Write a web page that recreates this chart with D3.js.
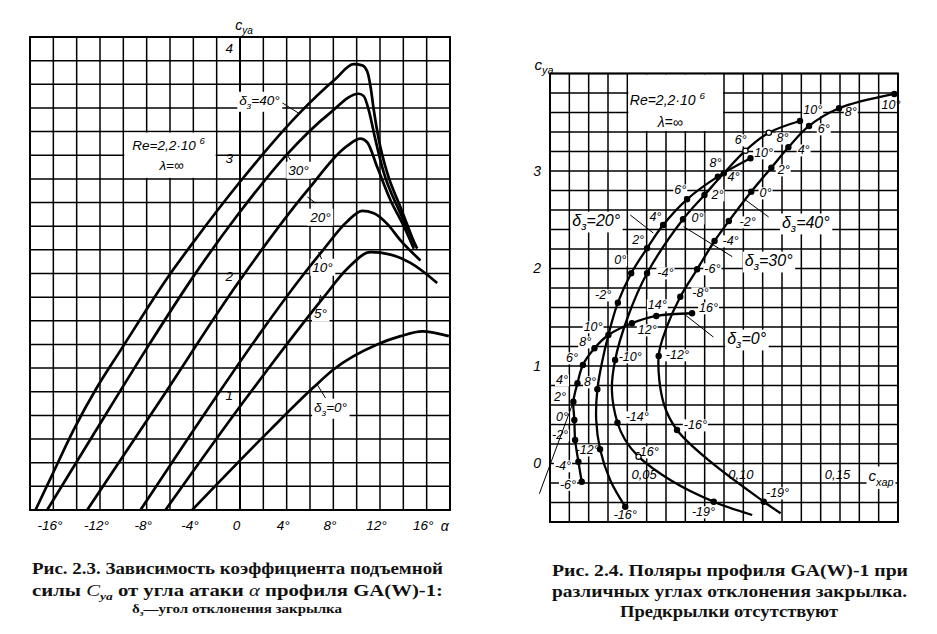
<!DOCTYPE html>
<html>
<head>
<meta charset="utf-8">
<script src="https://cdn.jsdelivr.net/npm/d3@7"></script>
<style>
  body { margin: 0; background: #fff; }
  svg { display: block; }
  .grid line { stroke: #000; stroke-width: 1.5; }
  .frame { fill: none; stroke: #000; stroke-width: 1.9; }
  .curve { fill: none; stroke: #000; stroke-width: 2.7; stroke-linejoin: round; }
  .thin { fill: none; stroke: #000; stroke-width: 1; }
  .lbl { font-family: "Liberation Sans", Arial, sans-serif; font-style: italic; fill: #000; }
  .cap { font-family: "Liberation Serif", "Times New Roman", serif; font-weight: 600; fill: #111; }
</style>
</head>
<body>
<svg id="chart" width="937" height="634"></svg>
<script>
// ---- Fig. 2.3: c_ya(alpha), one series per flap angle ----
const alphaTicks = [-16, -12, -8, -4, 0, 4, 8, 12, 16];
const cyTicksLeft = [1, 2, 3, 4];

const cyAlpha40 = [[-17.53,0],[-16.18,0.28],[-14.25,0.68],[-12.24,1.04],[-10.24,1.35],[-5.96,2.0],[-3.96,2.27],[0.04,2.78],[5.04,3.35],[8.13,3.64],[9.75,3.77],[10.47,3.76],[10.9,3.71],[11.19,3.58],[11.47,3.38],[11.9,3.13],[12.62,2.85],[13.76,2.56],[15.04,2.23]];
const cyAlpha30 = [[-16.53,0],[-12.55,0.64],[-8.1,1.35],[-3.96,1.98],[-0.24,2.49],[4.05,3.01],[7.63,3.35],[10.18,3.52],[10.61,3.50],[11.04,3.38],[11.61,3.13],[12.33,2.85],[13.61,2.54],[15.19,2.21]];
const cyAlpha20 = [[-13.1,0],[-6.81,0.93],[-0.1,1.93],[5.76,2.70],[9.19,3.08],[10.33,3.14],[10.9,3.11],[11.76,2.90],[12.9,2.62],[14.04,2.40],[14.9,2.21]];
const cyAlpha10 = [[-8.53,0],[-2.1,0.95],[1.76,1.50],[5.19,1.96],[7.05,2.19],[9.19,2.44],[10.47,2.53],[11.47,2.51],[12.62,2.42],[13.76,2.28],[15.47,2.11]];
const cyAlpha5  = [[-6.39,0],[0.33,0.92],[2.61,1.22],[7.18,1.80],[9.19,2.04],[11.19,2.18],[12.9,2.16],[14.61,2.09],[16.9,1.92]];
const cyAlpha0  = [[-4.1,0],[2.61,0.68],[6.33,1.04],[8.04,1.19],[11.76,1.40],[13.76,1.47],[15.62,1.51],[17.9,1.47]];

// ---- Fig. 2.4: polars [alpha, c_xa, c_ya]; alpha null = unmarked point on the line ----
const cxTicks = [0.05, 0.10, 0.15];
const cyTicksRight = [0, 1, 2, 3];

const polar0 = [[-6,.0164,-.187],[-4,.0147,.018],[-2,.0130,.241],[0,.0126,.446],[2,.0121,.634],[4,.0142,.823],[6,.0170,1.010],[8,.0230,1.182],[10,.0302,1.318],[12,.0424,1.438],[14,.0550,1.513],[16,.0735,1.541]];
const polar20 = [[-16,.0389,-.443],[null,.0311,-.169],[-12,.0259,.146],[null,.0239,.446],[-8,.0245,.761],[null,.0268,1.028],[null,.0302,1.318],[-2,.0351,1.649],[0,.0420,1.951],[2,.0502,2.207],[4,.0585,2.446],[6,.0709,2.710],[8,.0868,2.942],[10,.1037,3.130]];
const polar30 = [[null,.1046,-.528],[-19,.0847,-.392],[null,.0622,-.169],[-16,.0458,.070],[null,.0389,.241],[-14,.0349,.418],[null,.0320,.754],[-10,.0337,1.062],[null,.0402,1.5],[-4,.0502,1.951],[0,.0688,2.505],[2,.0799,2.754],[4,.0899,2.976],[6,.1011,3.208],[8,.1132,3.393],[10,.1293,3.513]];
const polar40 = [[null,.1193,-.511],[-19,.1106,-.392],[null,.0830,.018],[-16,.0657,.344],[null,.0588,.617],[-12,.0562,1.103],[null,.0602,1.390],[-8,.0674,1.711],[-6,.0761,1.992],[-4,.0851,2.282],[-2,.0925,2.487],[0,.1041,2.788],[2,.1145,3.034],[4,.1233,3.243],[6,.1340,3.462],[8,.1495,3.643],[10,.1781,3.790]];
const tangent0 = [[-0.0055,-0.31],[0.0121,0.634]];

// point labels of the polars: [text, c_xa, c_ya]
const polarLabels = [
  ['10°',.1764,3.677],['8°',.1556,3.605],['6°',.1416,3.431],['4°',.1312,3.215],['2°',.1209,3.010],
  ['0°',.1115,2.774],['-2°',.1022,2.477],['-4°',.0934,2.282],['-6°',.0840,1.995],['-8°',.0778,1.749],
  ['-12°',.0659,1.113],['-16°',.0752,.395],['-19°',.1177,-.303],
  ['10°',.1359,3.626],['8°',.1203,3.338],['6°',.0986,3.318],['4°',.0949,2.938],['2°',.0866,2.754],
  ['0°',.0763,2.518],['-4°',.0597,1.954],['-10°',.0415,1.092],['-14°',.0451,.477],['-16°',.0503,.118],['-19°',.0794,-.497],
  ['10°',.1105,3.185],['8°',.0856,3.082],['6°',.0674,2.805],['4°',.0545,2.528],['2°',.0456,2.292],
  ['0°',.0363,2.087],['-2°',.0275,1.728],['8°',.0207,.836],['-12°',.0192,.138],['-16°',.0389,-.528],
  ['-6°',.0093,-.215],['-4°',.0067,-.025],['-2°',.0052,.292],['0°',.0062,.477],['2°',.0052,.682],
  ['4°',.0062,.856],['6°',.0114,1.082],['8°',.0182,1.246],['10°',.0223,1.400],['12°',.0503,1.369],
  ['14°',.0555,1.626],['16°',.0820,1.595]
];

const hollowPoints = [[30, 6], [30, 8], [30, -16]];

// ---------------------------------------------------------------
const svg = d3.select('#chart');
const gGrid = svg.append('g').attr('class', 'grid');
const gBg = svg.append('g');
const gLines = svg.append('g');
const gText = svg.append('g');

function richText(g, x, y, parts, size, anchor, cls) {
  const t = g.append('text')
    .attr('class', cls || 'lbl')
    .attr('x', x).attr('y', y + size * 0.35)
    .attr('font-size', size)
    .attr('text-anchor', anchor || 'middle');
  let shift = 0;
  parts.forEach(p => {
    const [s, kind] = Array.isArray(p) ? p : [p, null];
    const ts = t.append('tspan').text(s);
    let target = 0;
    if (kind === 'sub') { ts.attr('font-size', size * 0.72); target = size * 0.3; }
    if (kind === 'sup') { ts.attr('font-size', size * 0.7); target = -size * 0.45; }
    if (target !== shift) { ts.attr('dy', target - shift); shift = target; }
  });
  return t;
}

function whiteBehind(t, px, py) {
  const b = t.node().getBBox();
  gBg.append('rect')
    .attr('x', b.x - px).attr('y', b.y - py)
    .attr('width', b.width + 2 * px).attr('height', b.height + 2 * py)
    .attr('fill', '#fff');
}

// ================= LEFT: c_ya(alpha) =================
const xL = d3.scaleLinear().domain([-18, 18]).range([30, 450]);
const yL = d3.scaleLinear().domain([0, 4]).range([510, 37]);

gGrid.selectAll('line.vl').data(d3.range(-18, 19, 2)).join('line')
  .attr('x1', d => xL(d)).attr('x2', d => xL(d))
  .attr('y1', yL(0)).attr('y2', yL(4))
  .style('stroke-width', d => d === 0 ? 2 : null);
gGrid.selectAll('line.hl').data(d3.range(0, 21).map(i => i * 0.2)).join('line')
  .attr('x1', xL(-18)).attr('x2', xL(18))
  .attr('y1', d => yL(d)).attr('y2', d => yL(d));
svg.append('rect').attr('class', 'frame')
  .attr('x', xL(-18)).attr('y', yL(4))
  .attr('width', xL(18) - xL(-18)).attr('height', yL(0) - yL(4));

// box of the Re note
gBg.append('rect').attr('fill', '#fff')
  .attr('x', xL(-10) + 1).attr('y', yL(3.2) + 1)
  .attr('width', xL(-2) - xL(-10) - 2).attr('height', yL(2.8) - yL(3.2) - 2);

const lineL = d3.line().x(d => xL(d[0])).y(d => yL(d[1])).curve(d3.curveMonotoneX);
[cyAlpha40, cyAlpha30, cyAlpha20, cyAlpha10, cyAlpha5, cyAlpha0].forEach(s => {
  gLines.append('path').attr('class', 'curve').attr('d', lineL(s));
});

// x axis labels
const axL = d3.axisBottom(xL).tickValues(alphaTicks).tickSize(0).tickPadding(0)
  .tickFormat(d => d === 0 ? '0' : (d < 0 ? '-' + (-d) : d) + '°');
const gAxL = gText.append('g').attr('transform', `translate(-4,${yL(0) + 10})`).call(axL);
gAxL.select('.domain').remove();
gAxL.selectAll('text').attr('class', 'lbl').attr('font-size', 13.5).attr('fill', '#000');
richText(gText, xL(16) + 18, yL(0) + 16, ['α'], 14, 'middle');

// y axis labels, drawn left of alpha = 0
const ayL = d3.axisLeft(yL).tickValues(cyTicksLeft).tickSize(0).tickPadding(7)
  .tickFormat(d3.format('d'));
const gAyL = gText.append('g').attr('transform', `translate(${xL(0)},3)`).call(ayL);
gAyL.select('.domain').remove();
gAyL.selectAll('text').attr('class', 'lbl').attr('font-size', 13.5).attr('fill', '#000')
  .attr('dy', d => d === 4 ? '0.9em' : '0.32em');
gAyL.selectAll('text').each(function () { whiteBehind(d3.select(this), 2, 1); });
richText(gText, xL(0) + 4, yL(4) - 12, ['c', ['ya', 'sub']], 14, 'middle');

// curve labels
const leftLabels = [
  { parts: ['δ', ['з', 'sub'], '=40°'], a: 1.67, c: 3.467, bg: true },
  { parts: ['30°'], a: 5.01, c: 2.875, bg: true },
  { parts: ['20°'], a: 6.9, c: 2.478, bg: true },
  { parts: ['10°'], a: 7.07, c: 2.055, bg: true },
  { parts: ['5°'], a: 6.9, c: 1.666, bg: true },
  { parts: ['δ', ['з', 'sub'], '=0°'], a: 7.76, c: 0.871, bg: true },
  { parts: ['Re=2,2·10 ', ['6', 'sup']], a: -6.13, c: 3.087, bg: false },
  { parts: ['λ=∞'], a: -5.87, c: 2.918, bg: false }
];
leftLabels.forEach(l => {
  const t = richText(gText, xL(l.a), yL(l.c), l.parts, 13.5, 'middle');
  if (l.bg) whiteBehind(t, 2, 1);
});
const leftLeaders = [[3.64,3.442,5.01,3.357],[4.33,2.96,4.07,3.0],[6.47,2.596,5.79,2.647],[6.99,2.123,6.73,2.182],[6.75,1.734,6.9,1.818],[7.33,0.947,6.64,1.057]];
gLines.selectAll('line.ldr').data(leftLeaders).join('line').attr('class', 'thin')
  .attr('x1', d => xL(d[0])).attr('y1', d => yL(d[1]))
  .attr('x2', d => xL(d[2])).attr('y2', d => yL(d[3]));

// ================= RIGHT: polars =================
const xR = d3.scaleLinear().domain([0, 0.18]).range([550, 898]);
const yR = d3.scaleLinear().domain([-0.6, 4.0]).range([522, 73.5]);

gGrid.selectAll('line.vr').data(d3.range(0, 19).map(i => i * 0.01)).join('line')
  .attr('x1', d => xR(d)).attr('x2', d => xR(d))
  .attr('y1', yR(-0.6)).attr('y2', yR(4));
gGrid.selectAll('line.hr').data(d3.range(0, 24).map(i => -0.6 + i * 0.2)).join('line')
  .attr('x1', xR(0)).attr('x2', xR(0.18))
  .attr('y1', d => yR(d)).attr('y2', d => yR(d));
svg.append('rect').attr('class', 'frame')
  .attr('x', xR(0)).attr('y', yR(4))
  .attr('width', xR(0.18) - xR(0)).attr('height', yR(-0.6) - yR(4));

gBg.append('rect').attr('fill', '#fff')
  .attr('x', xR(0.04) + 1).attr('y', yR(4) + 1)
  .attr('width', xR(0.09) - xR(0.04) - 2).attr('height', yR(3.4) - yR(4) - 2);

const lineR = d3.line().x(d => xR(d[1])).y(d => yR(d[2])).curve(d3.curveCatmullRom.alpha(0.5));
const polars = [[0, polar0], [20, polar20], [30, polar30], [40, polar40]];
polars.forEach(([delta, s]) => {
  gLines.append('path').attr('class', 'curve').style('stroke-width', 2.3).attr('d', lineR(s));
  gLines.selectAll(null).data(s.filter(d => d[0] !== null)).join('circle')
    .attr('cx', d => xR(d[1])).attr('cy', d => yR(d[2])).attr('r', 2.6)
    .attr('fill', d => hollowPoints.some(h => h[0] === delta && h[1] === d[0]) ? '#fff' : '#000')
    .attr('stroke', '#000').attr('stroke-width', 1.2);
});
gLines.append('path').attr('class', 'thin').attr('d', d3.line().x(d => xR(d[0])).y(d => yR(d[1]))(tangent0));

polarLabels.forEach(([s, cx, cy]) => {
  const t = richText(gText, xR(cx), yR(cy), [s], 12.5, 'middle');
  whiteBehind(t, 1, -1);
});

const deltaLabels = [
  { parts: ['δ', ['з', 'sub'], '=20°'], cx: .0239, cy: 2.497 },
  { parts: ['δ', ['з', 'sub'], '=30°'], cx: .1131, cy: 2.087 },
  { parts: ['δ', ['з', 'sub'], '=40°'], cx: .1323, cy: 2.477 },
  { parts: ['δ', ['з', 'sub'], '=0°'], cx: .1017, cy: 1.287 }
];
deltaLabels.forEach(l => {
  const t = richText(gText, xR(l.cx), yR(l.cy), l.parts, 16, 'middle');
  whiteBehind(t, 2, 0);
});
const rightLeaders = [[.0415,2.549,.0534,2.364],[.0943,2.121,.0691,2.429],[.1131,2.528,.1011,2.703],[.0845,1.297,.0700,1.523]];
gLines.selectAll('line.rdr').data(rightLeaders).join('line').attr('class', 'thin')
  .attr('x1', d => xR(d[0])).attr('y1', d => yR(d[1]))
  .attr('x2', d => xR(d[2])).attr('y2', d => yR(d[3]));

richText(gText, xR(.0607), yR(3.728), ['Re=2,2·10 ', ['6', 'sup']], 14, 'middle');
richText(gText, xR(.0622), yR(3.503), ['λ=∞'], 14, 'middle');

// axes of the polar plot
const axR = d3.axisBottom(xR).tickValues(cxTicks).tickSize(0).tickPadding(0)
  .tickFormat(d => d3.format('.2f')(d).replace('.', ','));
const gAxR = gText.append('g').attr('transform', `translate(-3,${yR(0) + 6})`).call(axR);
gAxR.select('.domain').remove();
gAxR.selectAll('text').attr('class', 'lbl').attr('font-size', 13).attr('fill', '#000');
gAxR.selectAll('text').each(function () { whiteBehind(d3.select(this), 3, 1); });
const cxLab = richText(gText, xR(0.1712), yR(-0.13), ['c', ['xap', 'sub']], 15, 'middle');
whiteBehind(cxLab, 2, 1);

const ayR = d3.axisLeft(yR).tickValues(cyTicksRight).tickSize(0).tickPadding(9)
  .tickFormat(d3.format('d'));
const gAyR = gText.append('g').attr('transform', `translate(${xR(0)},0)`).call(ayR);
gAyR.select('.domain').remove();
gAyR.selectAll('text').attr('class', 'lbl').attr('font-size', 14).attr('fill', '#000');
richText(gText, xR(0) - 6, yR(4) - 9, ['c', ['ya', 'sub']], 15, 'middle');

// ================= captions =================
function caption(x, y, parts, size, len) {
  const t = svg.append('text').attr('class', 'cap').attr('x', x).attr('y', y).attr('font-size', size);
  let shift = 0;
  parts.forEach(p => {
    const [s, kind] = Array.isArray(p) ? p : [p, null];
    const ts = t.append('tspan').text(s);
    let target = 0;
    if (kind === 'it') ts.attr('font-style', 'italic').attr('font-weight', 400);
    if (kind === 'sub') { ts.attr('font-size', size * 0.65).attr('font-style', 'italic'); target = size * 0.25; }
    if (target !== shift) { ts.attr('dy', target - shift); shift = target; }
  });
  if (len) t.attr('textLength', len).attr('lengthAdjust', 'spacingAndGlyphs');
}
caption(32, 574, ['Рис. 2.3. Зависимость коэффициента   подъемной'], 17, 411);
caption(32, 596, ['силы ', ['C', 'it'], ['ya', 'sub'], ' от угла атаки ', ['α', 'it'], ' профиля GA(W)-1:'], 17, 411);
caption(132, 613, ['δ', ['з', 'sub'], '—угол отклонения закрылка'], 12, 210);
caption(552, 576, ['Рис. 2.4. Поляры профиля   GA(W)-1 при'], 17, 356);
caption(552, 597, ['различных  углах  отклонения   закрылка.'], 17, 355);
caption(620, 617, ['Предкрылки  отсутствуют'], 17, 218);
</script>
</body>
</html>
